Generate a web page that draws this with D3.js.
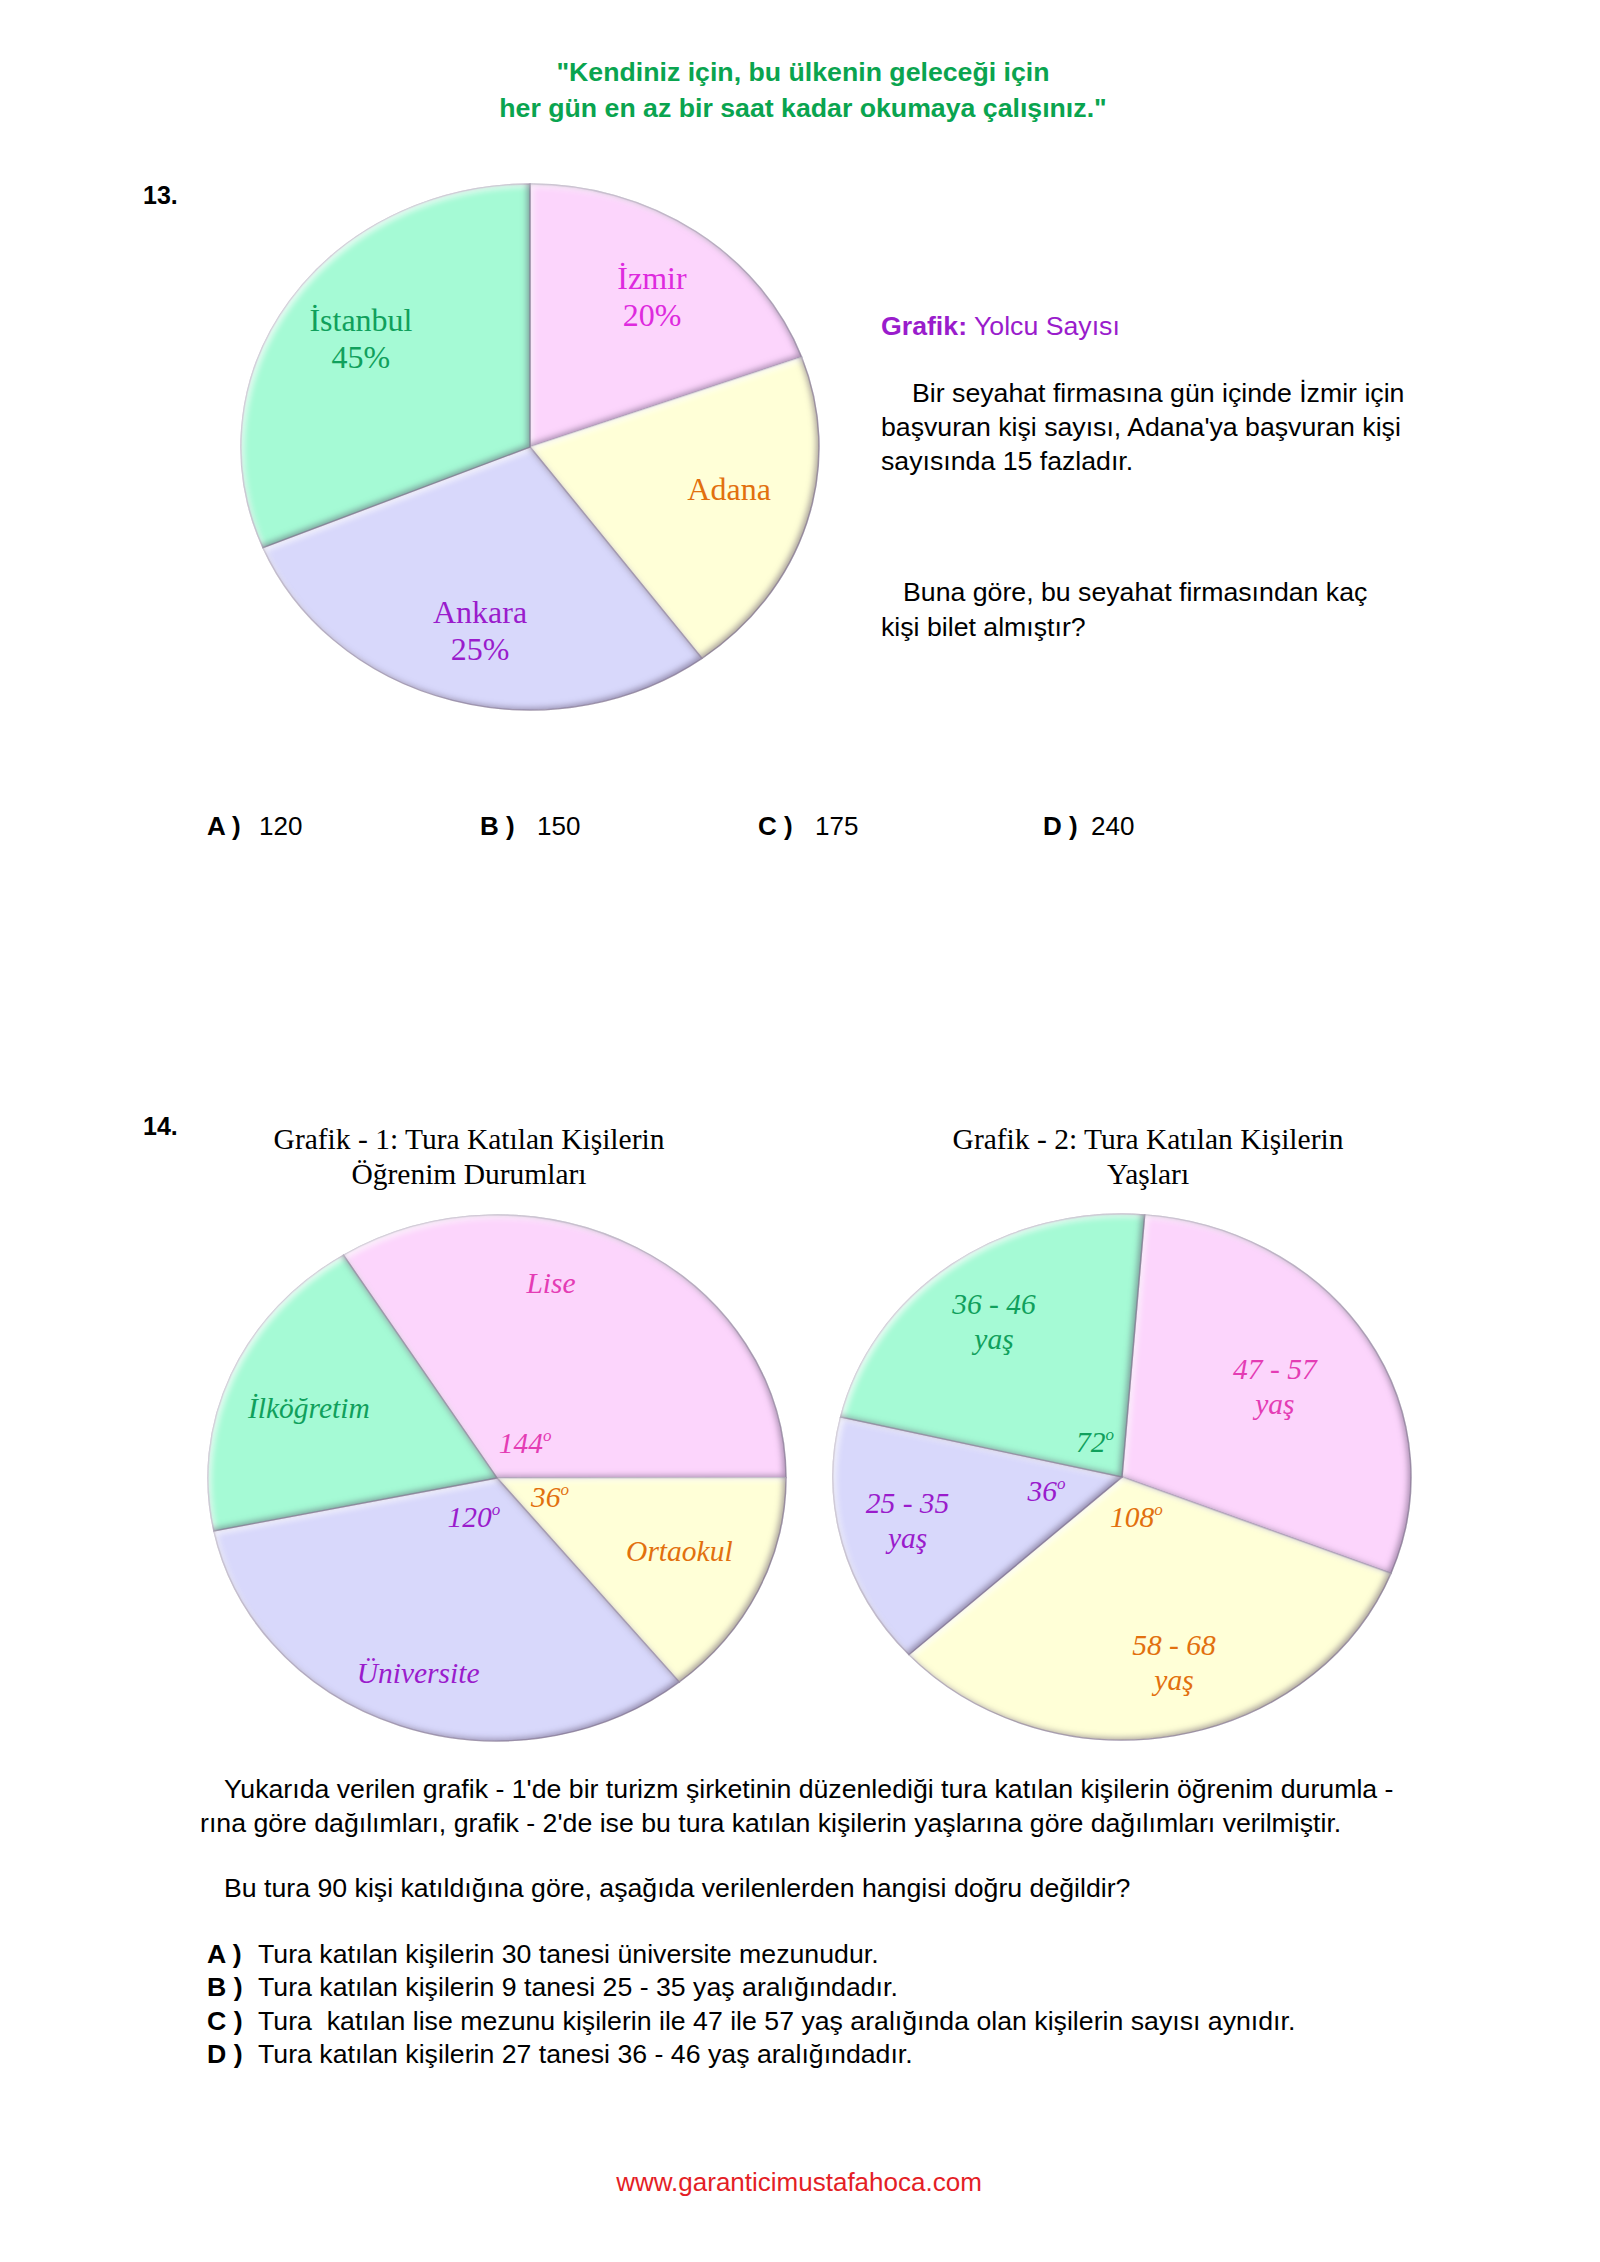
<!DOCTYPE html>
<html><head><meta charset="utf-8">
<script src="https://cdn.jsdelivr.net/npm/d3@7"></script>
<style>body{margin:0;background:#fff}svg{display:block}</style>
</head><body><div id="chart"></div>
<script>
// ---------------- DATA ----------------
const quoteLines = ["\"Kendiniz için, bu ülkenin geleceği için", "her gün en az bir saat kadar okumaya çalışınız.\""];

// Question 13 – pie "Yolcu Sayısı" (slice angles as drawn in the picture, degrees)
const q13Cities = ["İzmir", "Adana", "Ankara", "İstanbul"];
const q13DrawnDegrees = [70, 73.5, 104, 112.5];
const q13LabelLines = [["İzmir", "20%"], ["Adana"], ["Ankara", "25%"], ["İstanbul", "45%"]];
const q13Paragraph1 = ["Bir seyahat firmasına gün içinde İzmir için", "başvuran kişi sayısı, Adana'ya başvuran kişi", "sayısında 15 fazladır."];
const q13Paragraph2 = ["Buna göre, bu seyahat firmasından kaç", "kişi bilet almıştır?"];
const q13Options = [["A )", "120"], ["B )", "150"], ["C )", "175"], ["D )", "240"]];

// Question 14 – Grafik 1 (education), drawn angles in degrees
const g1Categories = ["Lise", "Ortaokul", "Üniversite", "İlköğretim"];
const g1DrawnDegrees = [122, 51, 117.5, 69.5];
const g1AngleLabels = ["144", "36", "120", ""];
const g1Title = ["Grafik - 1: Tura Katılan Kişilerin", "Öğrenim Durumları"];

// Question 14 – Grafik 2 (ages), drawn angles in degrees
const g2Categories = ["47 - 57", "58 - 68", "25 - 35", "36 - 46"];
const g2DrawnDegrees = [107, 116, 55.7, 81.3];
const g2AngleLabels = ["", "108", "36", "72"];
const g2Title = ["Grafik - 2: Tura Katılan Kişilerin", "Yaşları"];

const q14Paragraph = ["Yukarıda verilen grafik - 1'de bir turizm şirketinin düzenlediği tura katılan kişilerin öğrenim durumla -",
  "rına göre dağılımları, grafik - 2'de ise bu tura katılan kişilerin yaşlarına göre dağılımları verilmiştir."];
const q14Question = "Bu tura 90 kişi katıldığına göre, aşağıda verilenlerden hangisi doğru değildir?";
const q14Options = [["A )", "Tura katılan kişilerin 30 tanesi üniversite mezunudur."],
  ["B )", "Tura katılan kişilerin 9 tanesi 25 - 35 yaş aralığındadır."],
  ["C )", "Tura  katılan lise mezunu kişilerin ile 47 ile 57 yaş aralığında olan kişilerin sayısı aynıdır."],
  ["D )", "Tura katılan kişilerin 27 tanesi 36 - 46 yaş aralığındadır."]];
const footerText = "www.garanticimustafahoca.com";

// ---------------- STYLE / LAYOUT ----------------
const FILL = {green: "#a5fad5", pink: "#fcd5fc", yellow: "#ffffd7", lav: "#d8d8fb"};
const INK = {green: "#10a05c", magenta: "#de2ade", pink: "#e43cb4", orange: "#e2700e", purple: "#9a1ccc"};
const q13Fills = [FILL.pink, FILL.yellow, FILL.lav, FILL.green];
const q13Ink = [INK.magenta, INK.orange, INK.purple, INK.green];
const g1Fills = [FILL.pink, FILL.yellow, FILL.lav, FILL.green];
const g1Ink = [INK.pink, INK.orange, INK.purple, INK.green];
const g2Fills = [FILL.pink, FILL.yellow, FILL.lav, FILL.green];
const g2Ink = [INK.pink, INK.orange, INK.purple, INK.green];

const SANS = "'Liberation Sans', Arial, sans-serif";
const SERIF = "'Liberation Serif', 'Times New Roman', serif";
const BODY = 26.7;
const W = 1600, H = 2262;
const RX = 289, RY = 263;

const svg = d3.select("#chart").append("svg").attr("width", W).attr("height", H);
svg.append("rect").attr("width", W).attr("height", H).attr("fill", "#fff");

const defs = svg.append("defs");
const f = defs.append("filter").attr("id", "bevel").attr("x", "-10%").attr("y", "-10%")
  .attr("width", "120%").attr("height", "120%").attr("color-interpolation-filters", "sRGB");
f.append("feGaussianBlur").attr("in", "SourceAlpha").attr("stdDeviation", 3).attr("result", "blur");
f.append("feOffset").attr("in", "blur").attr("dx", -2.5).attr("dy", -2.5).attr("result", "offD");
f.append("feComposite").attr("in", "SourceAlpha").attr("in2", "offD").attr("operator", "out").attr("result", "rimD");
f.append("feFlood").attr("flood-color", "#4a3a5a").attr("flood-opacity", 0.5).attr("result", "fd");
f.append("feComposite").attr("in", "fd").attr("in2", "rimD").attr("operator", "in").attr("result", "darkC");
f.append("feOffset").attr("in", "blur").attr("dx", 2.5).attr("dy", 2.5).attr("result", "offL");
f.append("feComposite").attr("in", "SourceAlpha").attr("in2", "offL").attr("operator", "out").attr("result", "rimL");
f.append("feFlood").attr("flood-color", "#ffffff").attr("flood-opacity", 0.85).attr("result", "fl");
f.append("feComposite").attr("in", "fl").attr("in2", "rimL").attr("operator", "in").attr("result", "lightC");
const fm = f.append("feMerge");
fm.append("feMergeNode").attr("in", "SourceGraphic");
fm.append("feMergeNode").attr("in", "lightC");
fm.append("feMergeNode").attr("in", "darkC");

function drawPie(cx, cy, values, startDeg, fills) {
  const toRad = d3.scaleLinear().domain([0, 360]).range([0, 2 * Math.PI]);
  const pie = d3.pie().sort(null).value(d => d)
    .startAngle(toRad(startDeg)).endAngle(toRad(startDeg + 360));
  const arc = d3.arc().innerRadius(0).outerRadius(RY);
  const g = svg.append("g").attr("transform", `translate(${cx},${cy}) scale(${RX / RY},1)`);
  g.selectAll("path").data(pie(values)).join("path")
    .attr("d", arc).attr("fill", (d, i) => fills[i])
    .attr("stroke", "#8e7f9c").attr("stroke-opacity", 0.6).attr("stroke-width", 1.3)
    .attr("filter", "url(#bevel)");
  return g;
}

function label(x, y, lines, color, size, italic, gap) {
  const t = svg.append("text").attr("x", x).attr("y", y).attr("text-anchor", "middle")
    .attr("font-family", SERIF).attr("font-size", size).attr("fill", color)
    .attr("font-style", italic ? "italic" : "normal");
  lines.forEach((l, i) => t.append("tspan").attr("x", x).attr("dy", i === 0 ? 0 : gap).text(l));
}
function degLabel(x, y, num, color) {
  const t = svg.append("text").attr("x", x).attr("y", y).attr("text-anchor", "middle")
    .attr("font-family", SERIF).attr("font-size", 29.5).attr("font-style", "italic").attr("fill", color);
  t.append("tspan").text(num);
  t.append("tspan").attr("font-size", 17).attr("dy", -12).text("o");
}

// ---------------- HEADER ----------------
quoteLines.forEach((l, i) => svg.append("text").attr("x", 803).attr("y", 81 + i * 36)
  .attr("text-anchor", "middle").attr("font-family", SANS).attr("font-weight", "bold")
  .attr("font-size", 26.7).attr("fill", "#0aa44f").text(l));

// ---------------- QUESTION 13 ----------------
svg.append("text").attr("x", 143).attr("y", 204).attr("font-family", SANS).attr("font-weight", "bold")
  .attr("font-size", 25).text("13.");
const C13 = [530, 447];
drawPie(C13[0], C13[1], q13DrawnDegrees, 0, q13Fills);
const q13LabelPos = [[0.422, -0.601], [0.689, 0.2015], [-0.173, 0.669], [-0.585, -0.441]];
q13Cities.forEach((c, i) => label(C13[0] + q13LabelPos[i][0] * RX, C13[1] + q13LabelPos[i][1] * RY,
  q13LabelLines[i], q13Ink[i], 32, false, 37));

const gt = svg.append("text").attr("x", 881).attr("y", 335).attr("font-family", SANS).attr("font-size", BODY).attr("fill", "#9a1ccc");
gt.append("tspan").attr("font-weight", "bold").text("Grafik:");
gt.append("tspan").text(" Yolcu Sayısı");
const p1x = [912, 881, 881], p1y = [402, 436, 470];
q13Paragraph1.forEach((l, i) => svg.append("text").attr("x", p1x[i]).attr("y", p1y[i])
  .attr("font-family", SANS).attr("font-size", BODY).attr("fill", "#000").text(l));
const p2x = [903, 881], p2y = [601, 636];
q13Paragraph2.forEach((l, i) => svg.append("text").attr("x", p2x[i]).attr("y", p2y[i])
  .attr("font-family", SANS).attr("font-size", BODY).attr("fill", "#000").text(l));
const optX = [[207, 259], [480, 537], [758, 815], [1043, 1091]];
q13Options.forEach((o, i) => {
  svg.append("text").attr("x", optX[i][0]).attr("y", 835).attr("font-family", SANS).attr("font-weight", "bold")
    .attr("font-size", 26).text(o[0]);
  svg.append("text").attr("x", optX[i][1]).attr("y", 835).attr("font-family", SANS)
    .attr("font-size", 26).text(o[1]);
});

// ---------------- QUESTION 14 ----------------
svg.append("text").attr("x", 143).attr("y", 1135).attr("font-family", SANS).attr("font-weight", "bold")
  .attr("font-size", 25).text("14.");
[[g1Title, 469], [g2Title, 1148]].forEach(([tl, x]) => tl.forEach((l, i) =>
  svg.append("text").attr("x", x).attr("y", 1149 + i * 35).attr("text-anchor", "middle")
    .attr("font-family", SERIF).attr("font-size", 29.5).attr("fill", "#000").text(l)));

const C1 = [497, 1478], C2 = [1122, 1477];
drawPie(C1[0], C1[1], g1DrawnDegrees, -32.1, g1Fills);
drawPie(C2[0], C2[1], g2DrawnDegrees, 4.5, g2Fills);

const g1NamePos = [[0.187, -0.703], [0.631, 0.316], [-0.273, 0.779], [-0.651, -0.228]];
const g1DegPos = [[0.097, -0.095], [0.183, 0.110], [-0.080, 0.186], null];
g1Categories.forEach((c, i) => {
  label(C1[0] + g1NamePos[i][0] * RX, C1[1] + g1NamePos[i][1] * RY, [c], g1Ink[i], 29.5, true, 0);
  if (g1AngleLabels[i]) degLabel(C1[0] + g1DegPos[i][0] * RX, C1[1] + g1DegPos[i][1] * RY, g1AngleLabels[i], g1Ink[i]);
});
const g2NamePos = [[0.529, -0.373], [0.180, 0.677], [-0.742, 0.137], [-0.443, -0.620]];
const g2DegPos = [null, [0.050, 0.190], [-0.261, 0.091], [-0.093, -0.095]];
g2Categories.forEach((c, i) => {
  label(C2[0] + g2NamePos[i][0] * RX, C2[1] + g2NamePos[i][1] * RY, [c, "yaş"], g2Ink[i], 29.5, true, 35);
  if (g2AngleLabels[i]) degLabel(C2[0] + g2DegPos[i][0] * RX, C2[1] + g2DegPos[i][1] * RY, g2AngleLabels[i], g2Ink[i]);
});

const parX = [224, 200], parY = [1798, 1832];
q14Paragraph.forEach((l, i) => svg.append("text").attr("x", parX[i]).attr("y", parY[i])
  .attr("font-family", SANS).attr("font-size", BODY).text(l));
svg.append("text").attr("x", 224).attr("y", 1897).attr("font-family", SANS).attr("font-size", BODY).text(q14Question);
q14Options.forEach((o, i) => {
  const y = 1963 + i * 33.3;
  svg.append("text").attr("x", 207).attr("y", y).attr("font-family", SANS).attr("font-weight", "bold")
    .attr("font-size", BODY).text(o[0]);
  svg.append("text").attr("x", 258).attr("y", y).attr("font-family", SANS)
    .attr("font-size", BODY).style("white-space", "pre").text(o[1]);
});

svg.append("text").attr("x", 799).attr("y", 2191).attr("text-anchor", "middle").attr("font-family", SANS)
  .attr("font-size", 26).attr("fill", "#e41e26").text(footerText);
</script></body></html>
